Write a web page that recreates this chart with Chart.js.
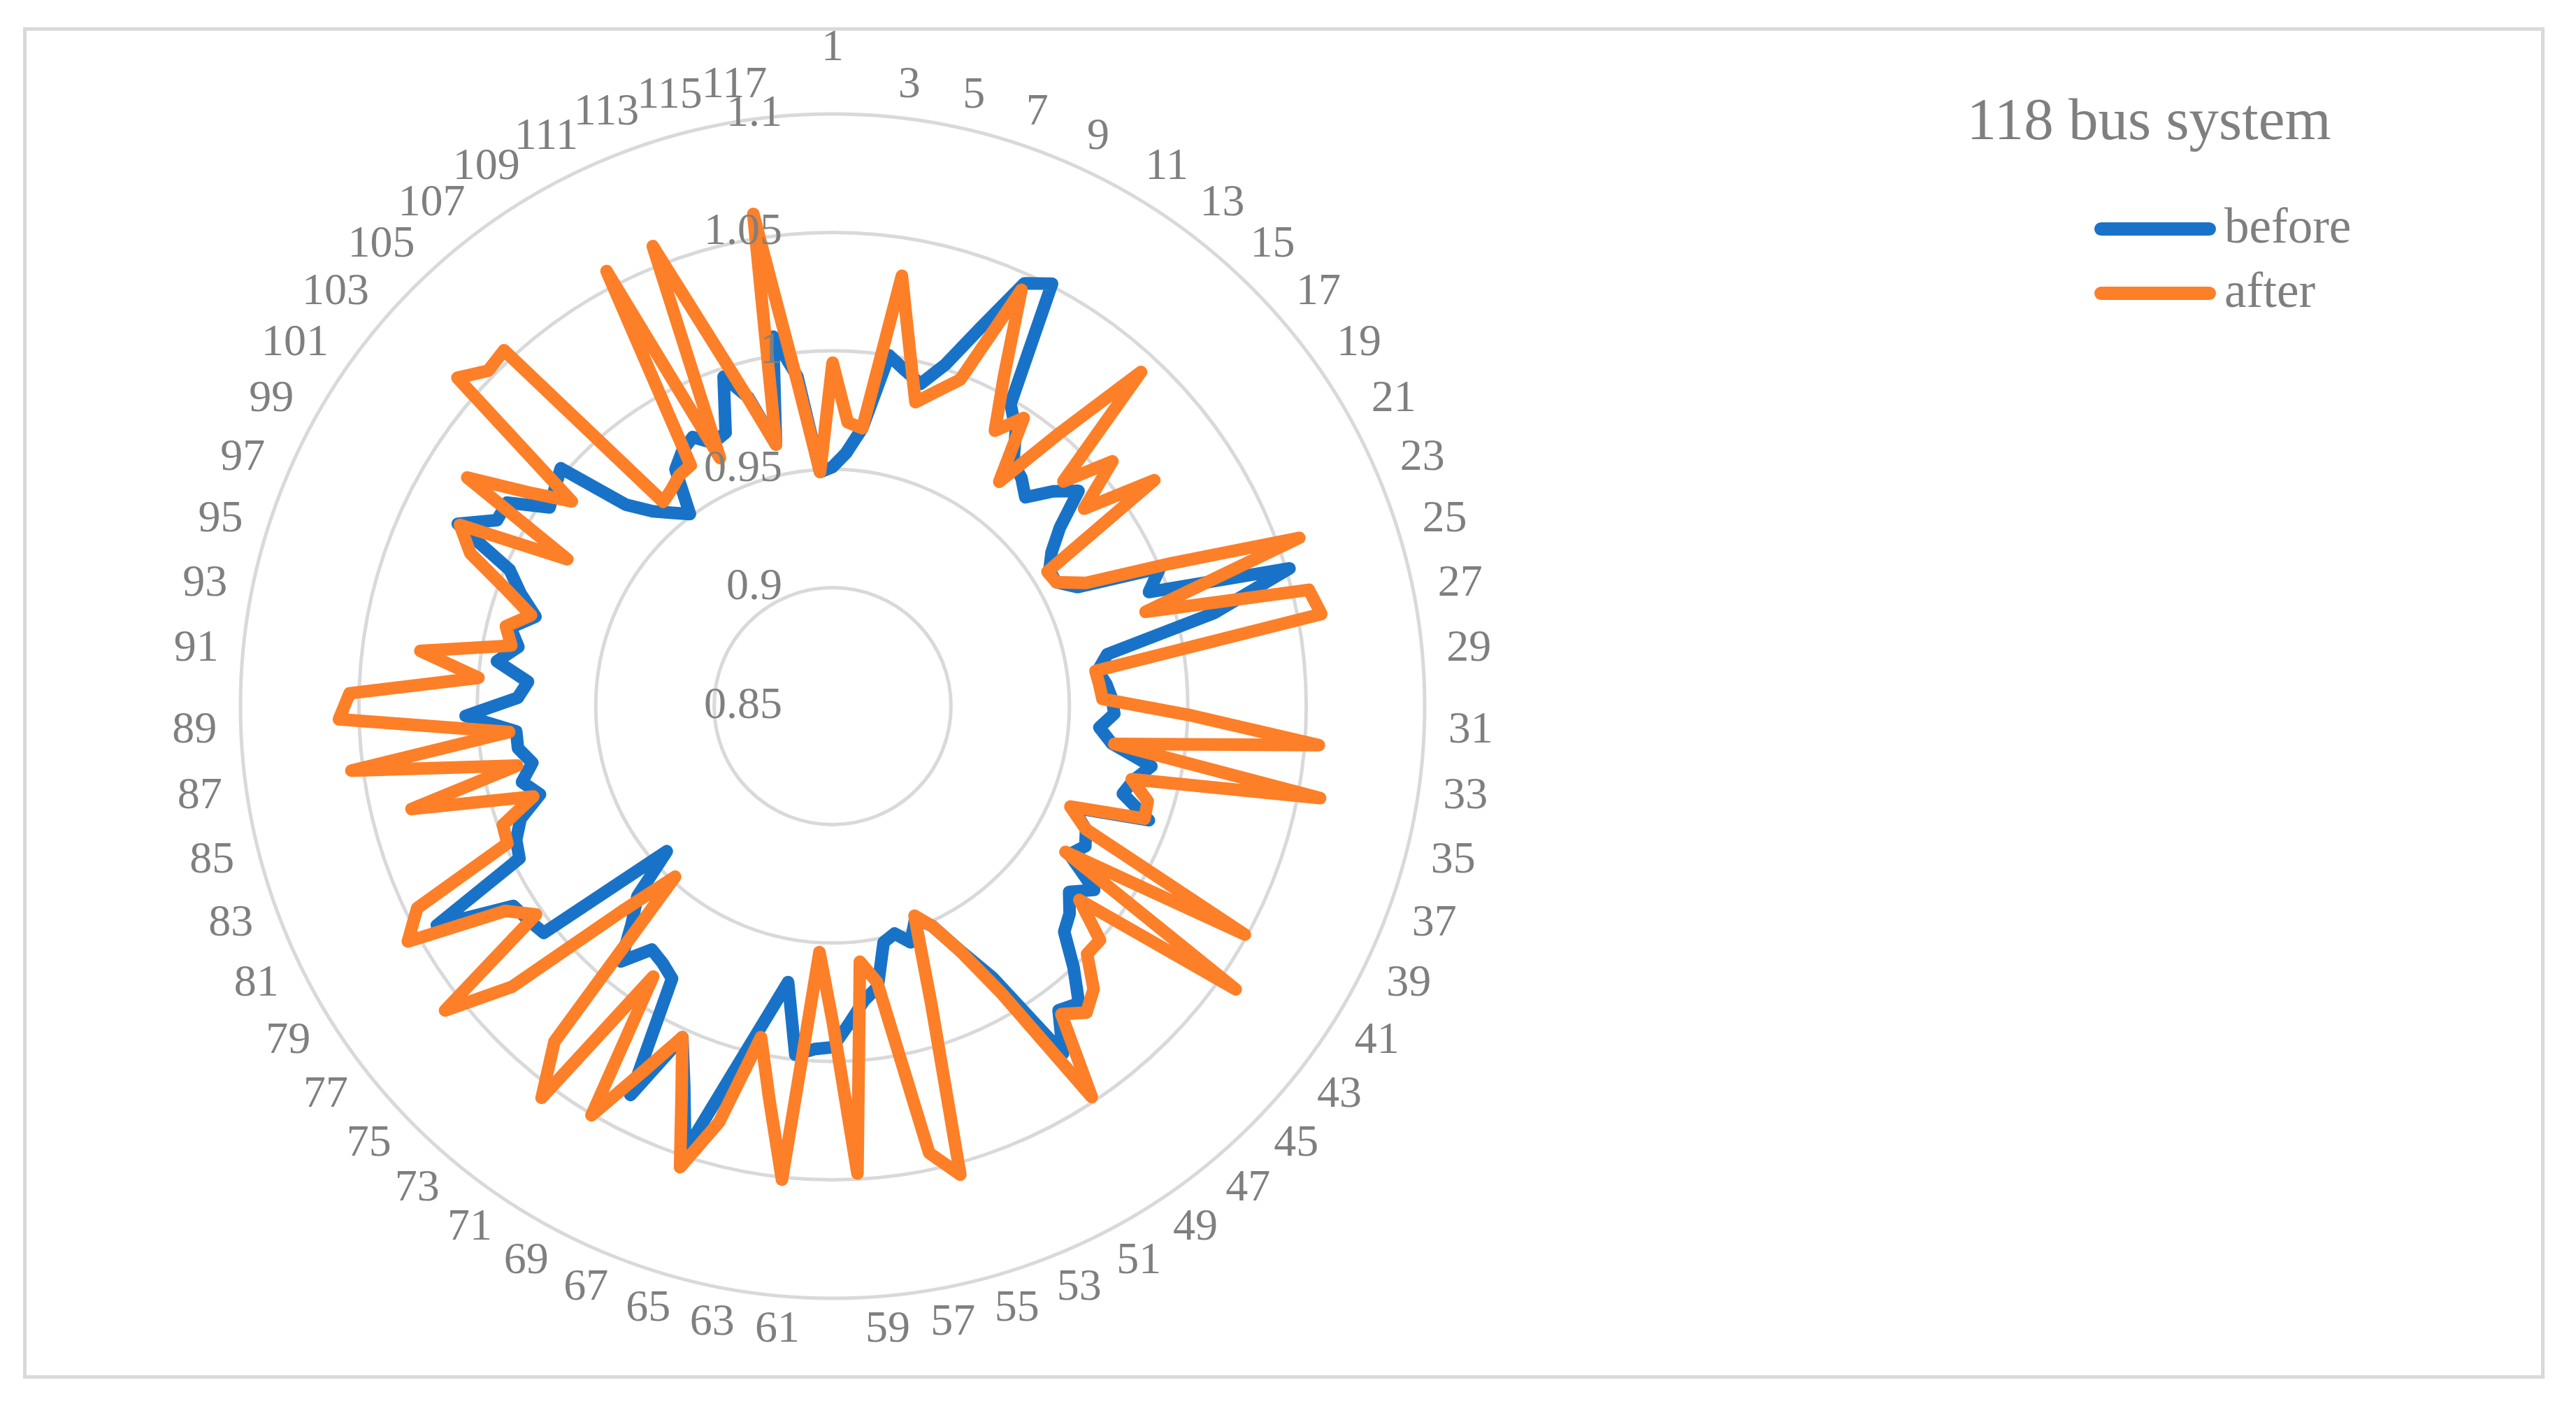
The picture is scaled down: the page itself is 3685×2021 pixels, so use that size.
<!DOCTYPE html>
<html>
<head>
<meta charset="utf-8">
<script src="https://cdn.jsdelivr.net/npm/chart.js@4.4.1/dist/chart.umd.min.js"></script>
<style>
html,body{margin:0;padding:0;background:#fff;}
#wrap{position:relative;width:3685px;height:2021px;overflow:hidden;background:#fff;}
#frame{position:absolute;left:33px;top:39px;width:3607px;height:1933px;border:5px solid #d9d9d9;box-sizing:border-box;}
#c{position:absolute;left:0;top:0;width:3685px;height:2021px;}
.t{position:absolute;font-family:'Liberation Serif',serif;color:#7f7f7f;white-space:nowrap;line-height:1;}
#title{font-size:85px;left:2774px;width:600px;text-align:center;top:128px;}
.lg{font-size:71px;left:3182px;}
.sw{position:absolute;left:2996px;width:174px;height:19px;border-radius:10px;}
</style>
</head>
<body>
<div id="wrap">
  <div id="frame"></div>
  <canvas id="c" width="3685" height="2021"></canvas>
  <div class="t" id="title">118 bus system</div>
  <div class="sw" style="top:318px;background:#1873C8;"></div>
  <div class="t lg" style="top:288px;">before</div>
  <div class="sw" style="top:410px;background:#FD7F28;"></div>
  <div class="t lg" style="top:380px;">after</div>
</div>
<script>
const categories = ['1','2','3','4','5','6','7','8','9','10','11','12','13','14','15','16','17','18','19','20',
'21','22','23','24','25','26','27','28','29','30','31','32','33','34','35','36','37','38','39','40',
'41','42','43','44','45','46','47','48','49','50','51','52','53','54','55','56','57','58','59','60',
'61','62','63','64','65','66','67','68','69','70','71','72','73','74','75','76','77','78','79','80',
'81','82','83','84','85','86','87','88','89','90','91','92','93','94','95','96','97','98','99','100',
'101','102','103','104','105','106','107','108','109','110','111','112','113','114','115','116','117','118'];

const seriesNames = ['before', 'after'];

const before = [
0.951,0.957,0.968,1.000,0.995,0.991,1.002,1.0215,1.046,1.051,
0.998,0.990,0.978,0.975,0.970,0.980,0.988,0.972,0.963,0.958,
0.958,0.965,1.000,0.992,1.0515,1.016,0.968,0.963,0.966,0.968,
0.969,0.963,0.969,0.987,0.981,0.978,0.992,0.960,0.969,0.972,
0.968,0.985,0.977,0.983,0.9865,1.000,1.013,1.010,1.026,0.983,
0.966,0.952,0.946,0.955,0.9495,0.952,0.970,0.975,0.984,0.994,
0.995,0.998,0.968,0.986,1.011,1.048,1.022,1.0035,1.035,0.9835,
0.980,0.978,0.990,0.975,0.965,0.943,1.005,1.007,1.009,1.041,
0.997,0.995,0.990,0.979,0.985,0.979,0.984,0.984,1.005,0.983,
0.979,0.993,0.985,0.990,0.981,0.990,0.998,1.026,1.012,1.012,
0.996,0.999,1.0025,0.972,0.962,0.956,0.951,0.970,0.975,0.978,
0.972,0.974,0.9965,0.985,0.963,1.008,0.990,0.949];

const after = [
0.995,0.970,0.968,1.034,1.004,0.983,0.990,0.998,1.043,1.007,
0.985,0.996,0.968,0.999,1.042,0.986,1.007,0.985,1.016,0.957,
0.958,0.969,1.005,1.0595,0.988,1.057,1.060,0.962,0.963,0.964,
1.002,1.056,0.970,1.0595,0.980,0.989,0.990,0.959,0.969,1.049,
0.966,1.058,0.9825,1.000,1.000,1.0125,1.018,1.012,1.048,0.991,
0.966,0.952,0.945,0.983,1.055,1.043,0.968,0.9585,1.0476,0.983,
0.954,1.051,1.018,0.993,1.032,1.055,1.025,1.0035,1.024,1.0505,
0.987,1.056,1.034,0.948,0.974,1.030,1.058,1.003,1.013,1.055,
1.045,0.999,0.998,0.982,1.033,0.9855,1.055,0.987,1.0585,1.054,
1.000,1.0256,0.988,0.992,0.983,0.997,1.016,1.025,0.978,1.032,
1.007,0.990,1.0605,1.053,1.0545,0.962,0.964,0.967,0.968,1.057,
0.965,1.0585,1.013,0.984,0.963,1.0605,0.986,0.949];

const radialTicks = [0.85, 0.9, 0.95, 1, 1.05, 1.1];

const gray = '#7f7f7f';
Chart.defaults.font.family = "'Liberation Serif', serif";

// tick text, padded with trailing spaces so that the (centred) labels sit left of the axis
function tickText(v) {
  const s = String(Math.round(v * 100) / 100);
  const digits = s.replace(/\D/g, '').length;
  const dots = s.length - digits;
  return s + ' '.repeat(9 + 2 * digits + dots);
}

new Chart(document.getElementById('c'), {
  type: 'radar',
  data: {
    labels: categories,
    datasets: [
      { label: seriesNames[0], data: before, borderColor: '#1873C8', backgroundColor: '#1873C8',
        borderWidth: 18, fill: false, pointRadius: 0, pointHoverRadius: 0, tension: 0,
        borderJoinStyle: 'round', borderCapStyle: 'round', order: 1 },
      { label: seriesNames[1], data: after, borderColor: '#FD7F28', backgroundColor: '#FD7F28',
        borderWidth: 18, fill: false, pointRadius: 0, pointHoverRadius: 0, tension: 0,
        borderJoinStyle: 'round', borderCapStyle: 'round', order: 0 }
    ]
  },
  options: {
    responsive: false,
    devicePixelRatio: 1,
    animation: false,
    events: [],
    layout: { padding: { left: 238, right: 1541, top: 33, bottom: 82 } },
    plugins: { legend: { display: false }, title: { display: false }, tooltip: { enabled: false } },
    scales: {
      r: {
        min: radialTicks[0],
        max: radialTicks[radialTicks.length - 1],
        angleLines: { display: false },
        grid: { color: '#d9d9d9', lineWidth: 5, circular: true },
        ticks: {
          stepSize: 0.05,
          color: gray,
          font: { size: 64, lineHeight: 1.3239, family: "'Liberation Serif', serif" },
          showLabelBackdrop: false,
          backdropPadding: 2,
          z: 1,
          callback: (v) => {
            // the innermost value sits on the centre; Chart.js skips that tick,
            // so it is written two lines under the next one (one line = half a ring step)
            if (Math.abs(v - radialTicks[1]) < 1e-9) {
              return [tickText(v), '', tickText(radialTicks[0])];
            }
            return tickText(v);
          }
        },
        pointLabels: {
          color: gray,
          padding: 0,
          font: { size: 64, lineHeight: 0.375, family: "'Liberation Serif', serif" },
          // only every other category is labelled; the first one is lifted clear of the axis labels
          callback: (label, i) => (i === 0 ? [label, '', ''] : (i % 2 === 0 ? label : ''))
        }
      }
    }
  }
});
</script>
</body>
</html>
